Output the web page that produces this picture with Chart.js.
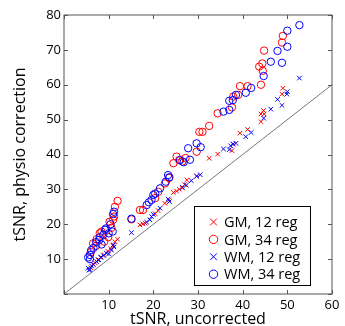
<!DOCTYPE html>
<html>
<head>
<meta charset="utf-8">
<script src="https://cdn.jsdelivr.net/npm/chart.js@4.4.0/dist/chart.umd.min.js"></script>
<style>
  html, body { margin: 0; padding: 0; background: #fff; }
</style>
</head>
<body>
<canvas id="chart" width="345" height="326"></canvas>
<script>
// values: [uncorrected, corrected]
const gm12 = [[6.0,7.5],[6.5,8.6],[7.0,8.9],[7.6,9.8],[8.3,10.6],[9.0,11.2],[9.8,12.3],[10.5,13.0],[11.0,13.9],[11.4,15.0],[12.0,15.7],
  [17.0,19.8],[17.7,20.1],[18.2,20.3],[20.4,23.0],[21.1,23.9],[22.6,26.0],[23.5,27.0],[24.5,29.1],[25.2,29.5],[25.8,30.0],[26.5,30.4],
  [27.0,31.4],[27.5,32.7],[29.7,33.8],[32.5,38.9],[34.4,40.1],[37.6,41.1],[37.9,43.0],[39.4,46.1],[41.1,47.2],[44.1,49.4],[44.1,51.6],
  [44.7,52.6],[44.8,51.6],[48.8,57.3],[49.0,59.0]];
const gm34 = [[6.0,12.0],[6.5,14.5],[7.2,13.8],[7.3,15.7],[8.0,17.4],[8.4,17.9],[9.0,15.0],[9.9,16.3],[10.2,20.7],[10.6,19.0],[11.0,21.3],
  [11.2,22.2],[11.4,25.0],[12.0,26.7],[15.1,21.4],[17.0,24.1],[17.7,24.1],[20.4,27.5],[21.1,29.3],[22.6,31.7],[23.5,33.3],[24.5,37.5],
  [25.2,39.4],[25.8,38.4],[26.5,38.0],[27.2,39.0],[29.7,40.8],[30.3,46.5],[31.0,46.5],[32.5,48.2],[34.4,51.8],[37.6,53.5],[37.9,56.6],
  [39.0,57.1],[39.4,59.6],[41.1,59.6],[44.1,60.0],[43.7,65.2],[44.5,64.0],[44.4,66.1],[44.8,69.8],[48.8,72.1],[49.0,74.0]];
const wm12 = [[5.4,7.4],[5.6,6.8],[5.8,7.0],[6.2,8.0],[6.6,8.4],[7.3,9.3],[7.8,9.8],[8.2,10.5],[8.8,11.0],[9.5,11.7],[10.0,11.5],
  [10.6,12.6],[11.0,14.1],[11.2,13.5],[15.1,17.6],[18.5,20.6],[19.2,21.3],[19.6,22.2],[20.0,22.8],[21.5,24.6],[23.3,27.2],[23.6,26.5],
  [26.5,30.6],[27.4,31.2],[28.5,32.5],[29.7,33.8],[30.5,34.2],[35.7,41.6],[37.0,41.4],[37.3,42.5],[37.8,43.0],[38.5,43.2],[40.7,45.1],
  [41.9,46.3],[44.7,50.4],[46.3,53.0],[47.8,55.8],[48.8,54.1],[49.9,57.3],[50.0,58.0],[52.7,61.9]];
const wm34 = [[5.4,10.5],[5.8,10.0],[5.8,11.2],[6.1,12.6],[6.6,13.2],[7.2,14.9],[7.9,15.5],[8.0,16.3],[8.4,14.2],[8.8,17.0],[9.2,18.4],
  [9.4,18.8],[10.0,17.4],[10.4,20.0],[10.9,17.9],[11.0,22.9],[11.2,23.6],[15.1,21.6],[18.5,25.5],[19.0,26.3],[19.6,27.0],[20.0,28.4],
  [20.4,28.8],[21.5,30.3],[22.8,32.2],[23.3,34.1],[23.6,33.5],[26.0,38.4],[26.8,37.8],[27.8,41.8],[28.2,38.5],[29.7,43.2],[30.6,42.1],
  [35.7,52.3],[37.0,52.8],[37.0,55.4],[37.8,55.6],[38.5,57.1],[40.7,57.7],[41.9,59.1],[44.7,62.5],[46.3,66.6],[47.8,69.7],[48.8,66.3],
  [50.0,70.9],[50.0,75.5],[52.7,77.1]];
const identity = [[0,0],[60,60]];
const labels = ['GM, 12 reg', 'GM, 34 reg', 'WM, 12 reg', 'WM, 34 reg'];
const xTicks = [0, 10, 20, 30, 40, 50, 60];
const yTicks = [0, 10, 20, 30, 40, 50, 60, 70, 80];

const RED = '#ff0000', BLUE = '#0000ff';
const FONT = '"Open Sans", "DejaVu Sans", sans-serif';

const toXY = arr => arr.map(p => ({ x: p[0], y: p[1] }));

function series(label, data, color, style, order) {
  const cross = style === 'crossRot';
  return {
    label: label,
    data: toXY(data),
    pointStyle: style,
    borderColor: color,
    backgroundColor: 'rgba(0,0,0,0)',
    pointRadius: cross ? 3.2 : 3.7,
    pointBorderWidth: 1,
    pointHoverRadius: 0,
    showLine: false,
    order: order
  };
}

// inward ticks on all four sides + box
const frame = {
  id: 'frame',
  afterDraw(chart) {
    const { ctx, chartArea: a, scales } = chart;
    ctx.save();
    ctx.strokeStyle = '#555';
    ctx.lineWidth = 1;
    ctx.strokeRect(a.left, a.top, a.right - a.left, a.bottom - a.top);
    ctx.beginPath();
    xTicks.forEach(v => {
      const px = Math.round(scales.x.getPixelForValue(v)) + 0.5;
      ctx.moveTo(px, a.bottom); ctx.lineTo(px, a.bottom - 4);
      ctx.moveTo(px, a.top); ctx.lineTo(px, a.top + 4);
    });
    yTicks.forEach(v => {
      const py = Math.round(scales.y.getPixelForValue(v)) + 0.5;
      ctx.moveTo(a.left, py); ctx.lineTo(a.left + 4, py);
      ctx.moveTo(a.right, py); ctx.lineTo(a.right - 4, py);
    });
    ctx.stroke();
    ctx.restore();
  }
};

// legend box in lower right of the plot
const boxLegend = {
  id: 'boxLegend',
  afterDraw(chart) {
    const ctx = chart.ctx;
    const x0 = 194.5, y0 = 206.5, w = 116, h = 79;
    ctx.save();
    ctx.fillStyle = '#fff';
    ctx.fillRect(x0, y0, w, h);
    ctx.strokeStyle = '#000';
    ctx.lineWidth = 1;
    ctx.strokeRect(x0, y0, w, h);
    ctx.font = '14.5px ' + FONT;
    ctx.textBaseline = 'middle';
    chart.data.datasets.slice(0, 4).forEach((ds, i) => {
      const cy = y0 + 15.5 + i * 17.4;
      ctx.strokeStyle = ds.borderColor;
      ctx.fillStyle = 'rgba(0,0,0,0)';
      ctx.lineWidth = 1;
      Chart.helpers.drawPoint(ctx, {
        pointStyle: ds.pointStyle,
        radius: ds.pointStyle === 'crossRot' ? 4.8 : 4.2,
        borderWidth: 1,
        rotation: 0
      }, 213.5, cy);
      ctx.fillStyle = '#000';
      ctx.fillText(ds.label, 224, cy + 1);
    });
    ctx.restore();
  }
};

new Chart(document.getElementById('chart'), {
  type: 'scatter',
  data: {
    datasets: [
      series(labels[0], gm12, RED, 'crossRot', 4),
      series(labels[1], gm34, RED, 'circle', 3),
      series(labels[2], wm12, BLUE, 'crossRot', 2),
      series(labels[3], wm34, BLUE, 'circle', 1),
      {
        label: 'identity',
        data: toXY(identity),
        showLine: true,
        borderColor: '#555',
        borderWidth: 0.8,
        pointRadius: 0,
        order: 5
      }
    ]
  },
  options: {
    responsive: false,
    animation: false,
    events: [],
    layout: { padding: { top: 15, right: 13, left: 0, bottom: 0 } },
    plugins: { legend: { display: false }, tooltip: { enabled: false } },
    scales: {
      x: {
        type: 'linear', min: 0, max: 60,
        afterBuildTicks: s => { s.ticks = xTicks.map(v => ({ value: v })); },
        afterFit: s => { s.height = 32; },
        grid: { display: false, drawTicks: false },
        border: { display: false },
        ticks: { padding: 3, color: '#000', font: { family: FONT, size: 13 }, callback: v => v === 0 ? '' : v },
        title: { display: true, text: 'tSNR, uncorrected', color: '#000', font: { family: FONT, size: 16, lineHeight: 1 }, padding: { top: 0, bottom: -1 } }
      },
      y: {
        type: 'linear', min: 0, max: 80,
        afterBuildTicks: s => { s.ticks = yTicks.map(v => ({ value: v })); },
        afterFit: s => { s.width = 64; },
        grid: { display: false, drawTicks: false },
        border: { display: false },
        ticks: { padding: 3, color: '#000', font: { family: FONT, size: 13 }, callback: v => v === 0 ? '' : v },
        title: { display: true, text: 'tSNR, physio correction', color: '#000', font: { family: FONT, size: 16, lineHeight: 1 }, padding: { top: 12, bottom: 0 } }
      }
    }
  },
  plugins: [frame, boxLegend]
});
</script>
</body>
</html>
